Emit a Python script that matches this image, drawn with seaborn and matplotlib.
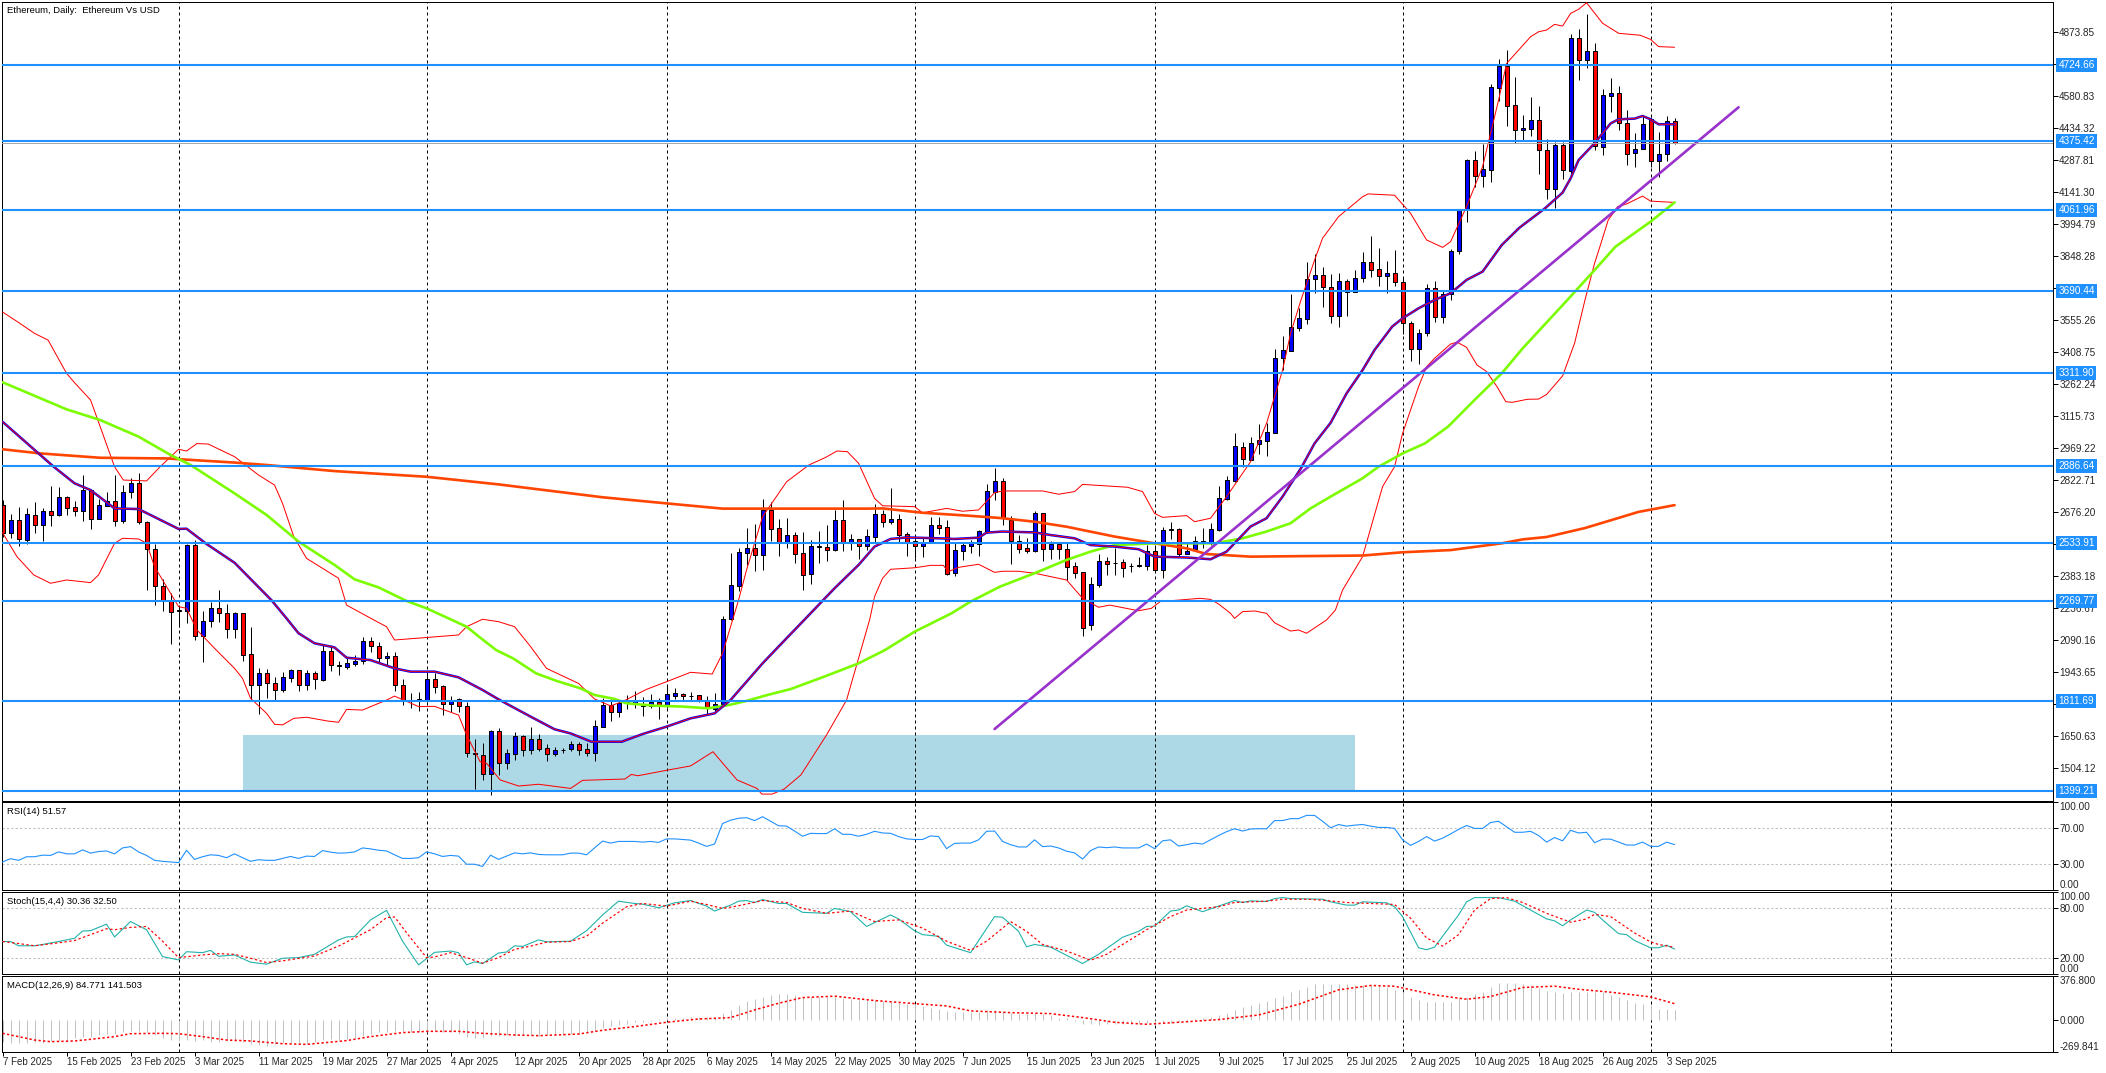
import numpy as np
import seaborn as sns
from matplotlib import pyplot as plt
from matplotlib.patches import Rectangle

# Candles, one per day from 7 Feb 2025
open_ = [2709,2582,2638,2550,2661,2618,2680,2664,2744,2698,
         2683,2776,2646,2706,2725,2637,2767,2808,2632,2509,
         2336,2275,2226,2225,2525,2108,2175,2235,2212,2139,
         2212,2024,1882,1937,1891,1859,1917,1951,1885,1937,
         1908,2038,1974,1968,1982,1992,2084,2061,2006,2015,
         1882,1816,1819,1815,1910,1878,1795,1818,1786,1571,
         1565,1477,1673,1528,1569,1650,1587,1635,1594,1569,
         1585,1592,1612,1589,1573,1693,1793,1761,1803,1800,
         1786,1789,1807,1789,1835,1844,1834,1836,1813,1772,
         1795,2185,2337,2490,2510,2481,2686,2602,2539,2570,
         2487,2394,2516,2515,2504,2638,2539,2551,2522,2563,
         2667,2632,2643,2574,2542,2522,2540,2617,2606,2395,
         2499,2522,2528,2586,2770,2817,2640,2545,2510,2498,
         2670,2508,2528,2505,2428,2400,2158,2342,2450,2445,
         2446,2429,2430,2431,2499,2412,2594,2597,2485,2505,
         2545,2533,2594,2736,2819,2973,2916,2990,3003,3040,
         3380,3416,3521,3562,3743,3762,3706,3575,3736,3686,
         3747,3823,3788,3759,3770,3732,3541,3422,3495,3701,
         3571,3674,3872,4059,4288,4218,4245,4621,4720,4540,
         4425,4433,4471,4334,4155,4357,4240,4847,4749,4787,
         4351,4584,4595,4457,4323,4341,4476,4286,4315,4467]
high = [2730,2667,2698,2693,2721,2693,2796,2791,2750,2725,
        2846,2780,2735,2767,2846,2800,2832,2854,2634,2530,
        2370,2304,2250,2530,2548,2223,2263,2319,2255,2220,
        2216,2149,1960,1956,1919,1942,1957,1953,1952,1948,
        2067,2067,1994,2006,2020,2105,2105,2081,2035,2035,
        1910,1849,1853,1937,1937,1884,1833,1823,1807,1636,
        1616,1678,1685,1589,1670,1657,1691,1659,1613,1601,
        1595,1627,1621,1620,1723,1822,1821,1815,1838,1856,
        1827,1842,1822,1879,1868,1846,1850,1838,1833,1845,
        2200,2487,2510,2603,2622,2735,2721,2643,2649,2583,
        2585,2547,2590,2617,2686,2732,2574,2553,2597,2713,
        2686,2787,2667,2585,2563,2563,2652,2655,2638,2533,
        2536,2548,2594,2805,2877,2831,2660,2571,2556,2681,
        2673,2545,2536,2533,2446,2403,2377,2482,2469,2513,
        2460,2444,2472,2525,2525,2606,2632,2603,2533,2568,
        2601,2625,2796,2841,3037,2995,3018,3079,3086,3423,
        3483,3675,3609,3820,3857,3798,3767,3773,3743,3785,
        3866,3940,3885,3828,3876,3755,3550,3514,3720,3735,
        3689,3881,4063,4293,4331,4363,4638,4752,4793,4670,
        4495,4578,4537,4384,4372,4373,4867,4889,4958,4824,
        4615,4664,4629,4518,4415,4495,4488,4416,4491,4480]
low = [2560,2557,2522,2528,2580,2544,2612,2658,2663,2658,
       2635,2599,2644,2705,2612,2628,2741,2623,2321,2250,
       2225,2072,2151,2170,2090,1991,2151,2174,2101,2098,
       1995,1815,1751,1826,1815,1853,1899,1858,1861,1865,
       1904,1949,1931,1959,1971,1978,2036,1983,1975,1858,
       1792,1780,1766,1807,1849,1746,1762,1760,1555,1407,
       1448,1381,1471,1500,1540,1560,1567,1583,1535,1558,
       1570,1581,1563,1558,1535,1690,1719,1737,1774,1780,
       1742,1780,1728,1777,1818,1815,1815,1808,1749,1754,
       1787,2180,2316,2434,2408,2411,2544,2475,2512,2443,
       2321,2348,2444,2454,2498,2499,2502,2461,2502,2539,
       2609,2622,2539,2475,2466,2471,2536,2576,2390,2383,
       2457,2489,2475,2580,2732,2615,2438,2490,2490,2494,
       2452,2463,2460,2365,2374,2110,2136,2334,2388,2388,
       2380,2403,2426,2410,2406,2375,2551,2469,2483,2502,
       2510,2525,2590,2731,2815,2884,2914,2942,2934,3037,
       3327,3414,3507,3538,3681,3617,3544,3525,3576,3683,
       3732,3755,3714,3679,3714,3491,3370,3355,3485,3549,
       3544,3648,3858,4007,4164,4167,4190,4561,4447,4369,
       4381,4399,4227,4111,4071,4202,4220,4656,4712,4337,
       4312,4511,4427,4268,4259,4339,4259,4213,4286,4363]
close = [2582,2638,2554,2666,2618,2680,2664,2744,2696,2683,
         2776,2646,2707,2725,2637,2767,2808,2632,2509,2336,
         2275,2220,2222,2525,2108,2176,2235,2212,2139,2215,
         2020,1882,1937,1891,1859,1919,1951,1885,1937,1910,
         2038,1974,1971,1983,1992,2084,2061,2006,2015,1882,
         1813,1813,1817,1910,1876,1795,1817,1786,1571,1568,
         1477,1671,1525,1570,1650,1587,1635,1592,1569,1584,
         1587,1612,1587,1573,1694,1793,1761,1800,1808,1810,
         1790,1807,1789,1841,1845,1835,1832,1813,1781,1795,
         2184,2341,2492,2510,2481,2686,2600,2539,2570,2486,
         2390,2519,2520,2504,2638,2539,2551,2522,2565,2667,
         2632,2643,2573,2539,2522,2540,2617,2605,2394,2501,
         2525,2533,2588,2771,2817,2647,2545,2508,2498,2670,
         2508,2528,2505,2426,2398,2143,2345,2450,2439,2443,
         2421,2427,2432,2499,2412,2592,2597,2485,2498,2545,
         2533,2597,2739,2822,2977,2918,2991,3006,3041,3380,
         3417,3522,3564,3742,3762,3706,3575,3736,3686,3747,
         3823,3785,3759,3770,3732,3541,3422,3495,3701,3571,
         3674,3872,4059,4288,4218,4247,4622,4720,4538,4425,
         4434,4471,4337,4155,4357,4242,4847,4749,4787,4355,
         4586,4595,4457,4318,4341,4453,4286,4315,4467,4367]

# Moving averages, read at the bends of each line (bar number, price)
ma_fast_day = [0,6.3,9,11,14,17,22,23,25.5,29,33.6,35.5,37,39,41.5,43,46,49,51,54,57,60,62,66,69,71,73.6,77.4,80,83,86,89,91,95,98,100,104,107,109,111,113,117,119,122,123,125,129,131,134,136,139,142,144,148,151,153,156,158,160,162.3,164,166,168,170,171.5,173.7,175,177,179,181,183,185,187.4,189.6,192.8,195,196,197,199,201,202,204,205,206,207,209]
ma_fast = [3090,2887,2808,2777,2693,2690,2599,2600,2530,2444,2273,2189,2121,2075,2056,2009,1998,1960,1945,1945,1919,1861,1818,1739,1681,1662,1624,1624,1659,1693,1731,1754,1815,1983,2098,2174,2327,2434,2518,2553,2560,2556,2553,2559,2582,2587,2583,2571,2556,2525,2518,2506,2472,2468,2460,2495,2610,2648,2747,2877,2991,3085,3220,3327,3419,3526,3564,3610,3648,3679,3740,3778,3900,3979,4068,4140,4205,4289,4366,4457,4476,4479,4491,4476,4453,4453]
ma_mid_day = [0,8,12.2,17,21,23.5,29,33,37,41.5,44,47,50.5,53,56,58,59.7,61.7,63.8,66.7,69.3,72.2,74,76.5,78,81.5,85,88.2,90.8,93,95.6,98.5,102.7,107,110.3,114,118.6,121,124.7,129,133,136,139,144,151.5,155,158,161,163.5,166,170,172,175,177.8,180.7,184,187.4,190,195.6,199,201.6,206,209]
ma_mid = [3271,3147,3098,3022,2938,2892,2762,2663,2541,2434,2368,2331,2269,2235,2185,2151,2101,2044,2006,1937,1902,1869,1838,1820,1800,1789,1785,1777,1792,1811,1838,1865,1922,1983,2044,2128,2212,2266,2335,2396,2457,2495,2525,2533,2533,2556,2587,2625,2693,2747,2831,2884,2945,2991,3068,3190,3312,3426,3648,3785,3892,4007,4095]
ma_slow_day = [0,4.7,12.2,20.5,29,33,41.5,53,62,75,83,90,108,110,115,120.6,124.7,129,133,139,143.5,148,150.5,156,170,175,181,187.4,190,193,197.8,204.5,209]
ma_slow = [2964,2945,2925,2922,2903,2892,2864,2838,2803,2744,2716,2692,2692,2693,2673,2660,2649,2632,2609,2564,2536,2510,2484,2472,2477,2492,2502,2533,2551,2562,2603,2677,2708]

# Bollinger bands, same way
bb_up_day = [0,2,4,5.7,8,9,11,12.2,14,15.1,18,19.7,22,23,24.3,25.7,29,32,34,35,36.4,38,42,43,46.4,48,49,57,58,60,62,64,66,68,72,74,76,77.5,80.5,83,86,88.7,90,92,93,95,98,100.8,102.9,104.3,105.6,107,109,110,114,115,118,120,122,124,125,130,132,134,135,140.6,142.5,144,145,148,149,151,153,156,158,160,161,162.3,164,165,167,170,170.7,174,176,178,180,181,183,185,187,188,191,192,193,194,195,196,197,198,200,202,204.7,206,207,209]
bb_up = [3593,3545,3495,3464,3312,3269,3190,3068,2884,2823,2819,2884,2964,2956,2990,2988,2930,2846,2800,2716,2564,2464,2373,2250,2182,2151,2090,2113,2151,2185,2174,2151,2060,1960,1891,1820,1788,1808,1864,1899,1942,1934,2029,2273,2411,2655,2815,2892,2927,2956,2953,2900,2739,2705,2701,2673,2693,2680,2686,2765,2773,2773,2758,2770,2803,2790,2770,2670,2652,2660,2632,2648,2747,2907,3083,3327,3495,3648,3831,3931,4030,4121,4134,4128,4045,3923,3889,3915,4076,4259,4564,4732,4854,4877,4885,4911,4903,4961,4980,5010,4916,4870,4861,4842,4809,4806]
bb_low_day = [0,1.8,3.9,6,8,11,12,14,15,17,18,19,21,22,23,24.3,26.5,29,30,31,33,34,35,36.4,38,40.6,42,43,45,48,49,52,54,57,58,59.7,60.5,62.2,64.5,67,71,72.5,77.8,78.6,79.4,83,86,88.8,91.8,94.3,94.9,96.2,97.7,99.8,103,105.5,108.4,109,110,111,114,116,117.6,118.2,119.5,122,124,125,127,129,133,135,137,138.4,142,143.6,144.7,149.7,151,152,153.5,154,155,156.5,158,159,161,162,163,165.5,166.6,167.5,170,172.5,174,175,177,178,179,181,181.8,183,184.3,185.5,186.8,187.9,188.7,190.6,192,193,195,196.5,197.8,199,199.8,200.7,201.9,203,205,206,209]
bb_low = [2582,2472,2388,2350,2365,2353,2388,2533,2556,2553,2533,2426,2304,2243,2235,2136,2052,1960,1914,1823,1754,1704,1701,1731,1736,1719,1713,1772,1769,1815,1833,1785,1786,1746,1655,1532,1525,1449,1421,1429,1410,1447,1453,1474,1468,1493,1513,1578,1449,1410,1384,1384,1407,1472,1655,1815,2185,2289,2373,2414,2421,2432,2432,2403,2423,2437,2400,2405,2405,2396,2365,2281,2240,2250,2224,2235,2266,2281,2276,2255,2212,2189,2220,2223,2212,2169,2131,2136,2121,2182,2227,2319,2472,2793,2884,3037,3251,3342,3381,3446,3455,3431,3350,3320,3251,3182,3179,3193,3194,3215,3300,3450,3648,3816,3908,4014,4076,4088,4124,4101,4095]

level_prices = [4724.66, 4375.42, 4061.96, 3690.44, 3311.90, 2886.64, 2533.91, 2269.77, 1811.69, 1399.21]
level_labels = ["4724.66", "4375.42", "4061.96", "3690.44", "3311.90", "2886.64", "2533.91", "2269.77", "1811.69", "1399.21"]
last_price = 4367
price_ticks = [4873.85, 4727.34, 4580.83, 4434.32, 4287.81, 4141.30, 3994.79, 3848.28, 3701.77, 3555.26, 3408.75,
               3262.24, 3115.73, 2969.22, 2822.71, 2676.20, 2529.69, 2383.18, 2236.67, 2090.16, 1943.65, 1797.14,
               1650.63, 1504.12]
trend_day = [124, 217]
trend_price = [1682, 4531]
zone_day = [30, 169]
zone_price = [1399.21, 1655]

rsi = [31.9,35.6,33.7,37.8,37.8,39.6,39.3,43.3,41.1,41.1,45.6,41.9,43.7,44.4,41.1,47.8,49.3,43.3,39.3,33.7,
       32.6,31.9,31.1,45.2,34.8,37.8,40,39.3,36.7,41.1,36.7,32.6,34.4,33.7,33.7,35.9,38.1,35.9,38.5,38.1,
       44.8,43,41.9,42.2,43.3,47.8,46.7,45.2,44.4,40,35.9,35.9,36.7,43.3,41.1,38.1,39.3,38.5,29.3,29.3,
       26.7,39.6,34.8,38.5,42.2,41.1,42.2,40.4,40,40,40,41.9,41.9,40,47.8,55.6,53.3,55.2,55.2,55.2,
       54.4,55.2,54.1,58.1,58.1,57.4,56.7,53.3,49.6,52.2,75.6,79.3,81.5,82.2,78.9,83.3,78.1,73,72.6,67,
       61.1,64.4,64.1,64.1,69.6,63.3,63.3,61.1,63.3,66.7,64.8,64.4,60.7,58.1,57.4,57.4,61.5,60.7,47,53,
       53.3,53.3,57,66.7,67,55.2,51.5,48.9,48.9,57,49.3,50,47.8,44.1,42.2,35.2,44.8,48.9,48.1,48.9,
       47.8,47.8,47.8,52.2,47,55.9,57,50,51.5,53.3,52.2,57,61.9,66.3,69.6,67,69.3,69.6,69.6,78.9,
       78.9,81.1,81.1,84.8,84.8,78.1,70.7,74.4,72.6,73.7,74.4,72.6,71.1,71.1,70,57,50.7,55.2,60.7,55.6,
       58.9,63.7,68.9,73.3,70,70,76.7,78.1,71.9,65.6,65.6,66.7,61.9,54.4,59.6,55.9,67.8,64.8,65.6,53.7,
       57.8,57.8,54.4,51.1,51.1,54.4,49.6,49.6,54.4,51.57]

stoch_k_day = [0,1,2,4,5,7,9,10,11,13,14,16,18,20,22,23,25,26,27,29,31,33,35,37,39,42,43,44,46,48,50,52,54,56,57,58,59,60,62,63,64,65,67,68,71,73,75,77,79,80,82,84,86,88,89,91,92,93,94,95,97,98,100,103,104,106,108,111,112,114,115,117,118,121,124,125,127,128,129,131,133,135,137,140,142,143,144,146,147,148,150,152,154,155,156,158,159,160,161,165,166,168,169,170,173,174,175,177,178,179,180,182,183,184,187,189,193,194,195,196,198,199,200,202,203,204,206,207,208,209]
stoch_k = [39.6,39.6,34.4,34.4,36,39.6,43.6,52.4,52.8,60.8,45.2,64,54,21.2,17.2,27.2,26,28.8,21.6,23.2,14.4,12,19.2,20,24,41.6,45.2,45.6,66,77.6,40,11.2,26.4,28,26,11.2,14.8,12.8,25.6,26.8,34.4,33.6,41.6,39.2,40,52.8,72,88.8,86,85.2,80.8,86.8,89.6,82.8,76.8,84,88.8,89.6,87.2,90.8,86,86,75.2,74,80,76,58,72,67.2,52.8,48,46,35.2,26,70,69.2,52,33.2,36,32.8,22.8,12.8,24,44.8,52,58,58.4,76.8,78,83.2,76,82.8,89.6,87.2,89.2,88.4,92,93.2,92,91.2,88,84,84,88,86.8,82,70,32,29.6,32.8,46,72,88,93.2,93.2,88.8,67.2,64.8,58.8,66,78,75.2,66,49.2,48,40.8,32,32,35.2,30.36]
stoch_d_day = [0,2,4,7,9,11,13,14,16,18,20,22,25,27,29,31,33,35,39,42,44,46,48,49,51,53,54,56,58,60,62,64,66,68,71,73,75,78,80,83,86,88,90,92,95,98,100,103,106,108,109,112,115,118,121,123,126,128,130,133,136,138,141,143,146,148,150,152,154,158,160,163,165,168,171,174,176,178,180,182,184,186,188,190,193,196,198,199,201,204,206,207,209]
stoch_d = [39.6,37.2,34.4,38,40.8,48,55.2,54,56.8,58,40,20,23.2,24.8,24,19.2,14,16,22,34,44,54,68.8,69.6,44,20,20.8,26,20,13.2,20,30,34,38.8,39.6,46,62,82,86,82.8,88.8,84.8,80,83.2,89.6,87.2,80,74,76.8,68,64,66,56,40,28.8,40,64,52,36,28,16.8,24,42,54,70,78,80,82,87.2,88.8,91.2,91.2,90,87.2,86,84.8,68,44,34,48,78,92,93.2,87.2,74,63.2,67.2,72.8,70,50,39.2,36,32.5]

macd_hist = [-188,-196,-196,-196,-182,-196,-176,-176,-176,-153,-139,-139,-125,-119,-119,-97,-91,-91,-102,-125,
             -148,-168,-176,-168,-176,-168,-182,-188,-176,-176,-188,-205,-210,-216,-205,-196,-196,-196,-205,-188,
             -168,-162,-168,-162,-153,-131,-119,-102,-97,-91,-91,-97,-102,-102,-91,-97,-102,-119,-139,-148,
             -153,-131,-131,-125,-131,-125,-125,-131,-125,-125,-125,-119,-114,-102,-91,-68,-45,-40,-28,-17,
             -11,-3,11,17,23,23,28,31,31,23,60,88,131,165,182,202,216,225,225,216,
             202,202,202,199,202,188,182,173,173,173,165,159,145,136,136,122,102,97,80,74,
             68,68,74,88,88,74,60,51,54,60,51,45,23,23,-2,-34,-34,-40,-34,-28,
             -34,-34,-34,-26,-40,-26,-20,-11,11,11,23,31,45,60,88,117,131,145,165,188,
             210,239,259,287,307,310,307,310,310,301,296,301,296,281,259,244,202,173,159,153,
             153,159,188,202,225,244,279,313,321,321,310,296,273,250,244,230,244,244,244,239,
             239,216,202,173,145,136,131,97,97,84.771]
macd_sig_day = [0,2,4,6,9,11,14,16,20,22,25,28,31,35,38,43,46,50,53,57,60,64,67,72,75,79,83,87,91,94,97,100,104,109,114,118,121,126,131,135,139,143,147,152,157,162,167,171,174,179,183,186,190,194,197,201,206,209]
macd_sig = [-111,-139,-168,-182,-176,-162,-139,-114,-111,-114,-139,-168,-176,-199,-205,-173,-139,-105,-94,-94,-111,-125,-131,-117,-85,-54,-17,11,23,88,145,193,205,168,142,122,80,65,57,23,-17,-34,-17,6,45,136,259,296,290,216,179,202,279,290,264,239,199,141.5]

month_days = [22, 53, 83, 114, 144, 175, 206, 236]
date_labels = ["7 Feb 2025", "15 Feb 2025", "23 Feb 2025", "3 Mar 2025", "11 Mar 2025", "19 Mar 2025", "27 Mar 2025",
               "4 Apr 2025", "12 Apr 2025", "20 Apr 2025", "28 Apr 2025", "6 May 2025", "14 May 2025", "22 May 2025",
               "30 May 2025", "7 Jun 2025", "15 Jun 2025", "23 Jun 2025", "1 Jul 2025", "9 Jul 2025", "17 Jul 2025",
               "25 Jul 2025", "2 Aug 2025", "10 Aug 2025", "18 Aug 2025", "26 Aug 2025", "3 Sep 2025"]

BLUE = "#1E90FF"
W, H = 2106, 1073
PX = 0.72  # one pixel in points at dpi 100

sns.set_style("white")
plt.rcParams["font.family"] = ["Liberation Sans", "DejaVu Sans"]
fig = plt.figure(figsize=(W / 100, H / 100), dpi=100, facecolor="white")


def panel(top, bottom):
    return fig.add_axes([2.3 / W, 1 - bottom / H, (2053 - 2.3) / W, (bottom - top) / H])


ax_main = panel(2.3, 800.5)
ax_rsi = panel(802, 890)
ax_sto = panel(892, 974)
ax_macd = panel(976, 1052)
axes = [ax_main, ax_rsi, ax_sto, ax_macd]

for ax in axes:
    ax.set_xlim(-0.03, 256.3)
    for s in ax.spines.values():
        s.set_linewidth(PX)
        s.set_color("black")
    ax.vlines(month_days, 0, 1, transform=ax.get_xaxis_transform(), colors="black",
              linewidth=PX, linestyles=(0, (3, 3)), zorder=1.5)
    ax.yaxis.tick_right()
    ax.tick_params(axis="y", length=3.5, width=PX, pad=1, labelsize=7.2, color="black", right=True, left=False)
    ax.set_xticks([])

days = np.arange(len(close))
open_a, high_a, low_a, close_a = map(np.array, (open_, high, low, close))

# zone and candles
ax_main.add_patch(Rectangle((zone_day[0], zone_price[0]), zone_day[1] - zone_day[0], zone_price[1] - zone_price[0],
                            facecolor="#ADD8E6", edgecolor="none", zorder=1))
ax_main.vlines(days, low_a, high_a, colors="black", linewidth=PX, zorder=2)
up = close_a >= open_a
ax_main.bar(days, np.abs(close_a - open_a), bottom=np.minimum(open_a, close_a), width=0.5,
            color=np.where(up, "#0000FF", "#FF0000"), edgecolor="black", linewidth=PX, zorder=2.2)

# bands and averages
sns.lineplot(x=bb_up_day, y=bb_up, ax=ax_main, color="#FF0000", linewidth=PX, estimator=None, sort=False, zorder=3)
sns.lineplot(x=bb_low_day, y=bb_low, ax=ax_main, color="#FF0000", linewidth=PX, estimator=None, sort=False, zorder=3)
sns.lineplot(x=ma_slow_day, y=ma_slow, ax=ax_main, color="#FF4500", linewidth=1.9, estimator=None, sort=False, zorder=4)
sns.lineplot(x=ma_mid_day, y=ma_mid, ax=ax_main, color="#7CFC00", linewidth=1.9, estimator=None, sort=False, zorder=4)
sns.lineplot(x=ma_fast_day, y=ma_fast, ax=ax_main, color="#0000FF", linewidth=1.8, estimator=None, sort=False, zorder=4.1)
sns.lineplot(x=ma_fast_day, y=ma_fast, ax=ax_main, color="#FF0000", linewidth=PX, estimator=None, sort=False, zorder=4.2)
sns.lineplot(x=trend_day, y=trend_price, ax=ax_main, color="#9932CC", linewidth=1.9, estimator=None, sort=False, zorder=5)

ax_main.axhline(last_price, color="#A9A9A9", linewidth=PX, zorder=5.5)
for price in level_prices:
    ax_main.axhline(price, color=BLUE, linewidth=1.5, zorder=6)

ax_main.set_ylim(1354.6, 5012)
ax_main.set_yticks(price_ticks)
ax_main.set_yticklabels([f"{t:.2f}" for t in price_ticks])
for price, label in zip(level_prices, level_labels):
    ax_main.text(1 + 5.5 / 2051, price, label, transform=ax_main.get_yaxis_transform(), color="white", fontsize=7.2,
                 va="center", ha="left", clip_on=False, zorder=10,
                 bbox=dict(facecolor=BLUE, edgecolor="none", boxstyle="square,pad=0.2"))
ax_main.text(5 / 2051, 1 - 8 / 798, "Ethereum, Daily:  Ethereum Vs USD", transform=ax_main.transAxes,
             fontsize=6.8, va="center", ha="left", color="black", zorder=10)

# RSI
sns.lineplot(x=days, y=rsi, ax=ax_rsi, color=BLUE, linewidth=PX * 1.1, estimator=None, sort=False, zorder=3)
for level in [70, 30]:
    ax_rsi.axhline(level, color="#C0C0C0", linewidth=PX * 1.1, linestyle=(0, (2, 2)), zorder=1)
ax_rsi.set_ylim(0, 100)
ax_rsi.set_yticks([100, 70, 30, 0])
ax_rsi.set_yticklabels(["100.00", "70.00", "30.00", "0.00"])
ax_rsi.text(5 / 2051, 0.89, "RSI(14) 51.57", transform=ax_rsi.transAxes, fontsize=6.8, va="center", color="black")

# Stochastic
sns.lineplot(x=stoch_k_day, y=stoch_k, ax=ax_sto, color="#20B2AA", linewidth=PX * 1.1, estimator=None, sort=False, zorder=3)
sns.lineplot(x=stoch_d_day, y=stoch_d, ax=ax_sto, color="#FF0000", linewidth=PX * 1.2, linestyle=(0, (2, 2)),
             estimator=None, sort=False, zorder=3.1)
for level in [80, 20]:
    ax_sto.axhline(level, color="#C0C0C0", linewidth=PX * 1.1, linestyle=(0, (2, 2)), zorder=1)
ax_sto.set_ylim(0, 100)
ax_sto.set_yticks([100, 80, 20, 0])
ax_sto.set_yticklabels(["100.00", "80.00", "20.00", "0.00"])
ax_sto.text(5 / 2051, 0.88, "Stoch(15,4,4) 30.36 32.50", transform=ax_sto.transAxes, fontsize=6.8, va="center", color="black")

# MACD
ax_macd.vlines(days, 0, macd_hist, colors="#C0C0C0", linewidth=PX, zorder=2)
sns.lineplot(x=macd_sig_day, y=macd_sig, ax=ax_macd, color="#FF0000", linewidth=1.1, linestyle=(0, (1.5, 1.5)),
             estimator=None, sort=False, zorder=3)
ax_macd.set_ylim(-269.841, 376.8)
ax_macd.set_yticks([376.8, 0, -269.841])
ax_macd.set_yticklabels(["376.800", "0.000", "-269.841"])
ax_macd.text(5 / 2051, 0.88, "MACD(12,26,9) 84.771 141.503", transform=ax_macd.transAxes, fontsize=6.8, va="center", color="black")

# end labels stay inside their panels
for ax in [ax_rsi, ax_sto, ax_macd]:
    labels = ax.get_yticklabels()
    labels[0].set_va("top")
    labels[-1].set_va("bottom")

ax_macd.set_xticks(np.arange(0, 209, 8))
ax_macd.set_xticklabels(date_labels, fontsize=7.0, ha="left")
ax_macd.tick_params(axis="x", length=3, width=PX, pad=0.5, color="black", bottom=True)

for ax in axes:
    ax.set_xlabel("")
    ax.set_ylabel("")

fig.savefig("out.png", dpi=100, facecolor="white")
